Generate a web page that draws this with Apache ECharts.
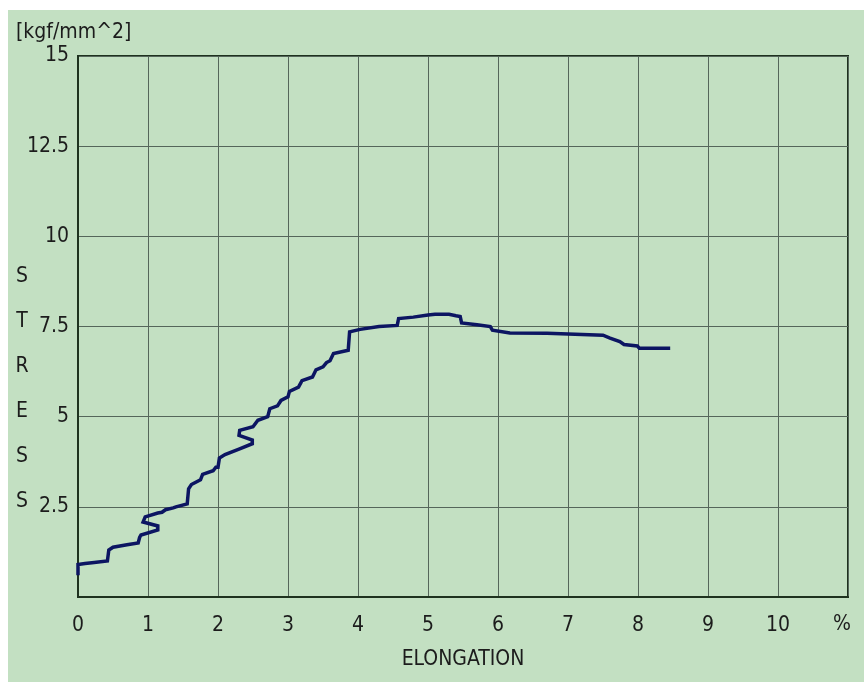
<!DOCTYPE html>
<html>
<head>
<meta charset="utf-8">
<script src="https://cdn.jsdelivr.net/npm/echarts@6/dist/echarts.min.js"></script>
<style>
html,body{margin:0;padding:0;background:#ffffff;}
#c{width:864px;height:682px;}
</style>
</head>
<body>
<div id="c"></div>
<script>
// Elongation (%) and stress (kgf/mm^2)
const elongation = [0, 0, 0.1, 0.2, 0.42, 0.44, 0.5, 0.7, 0.86, 0.88, 0.9, 1.14, 1.14, 0.93, 0.96, 1.14, 1.2, 1.25, 1.36, 1.4, 1.56, 1.58, 1.62, 1.75, 1.78, 1.93, 1.97, 2.0, 2.02, 2.1, 2.3, 2.49, 2.49, 2.3, 2.31, 2.5, 2.57, 2.71, 2.74, 2.85, 2.9, 3.0, 3.02, 3.15, 3.2, 3.35, 3.4, 3.5, 3.55, 3.6, 3.65, 3.86, 3.88, 4.03, 4.3, 4.56, 4.58, 4.79, 5.0, 5.1, 5.3, 5.4, 5.46, 5.48, 5.7, 5.89, 5.92, 6.17, 6.7, 6.72, 7.5, 7.6, 7.74, 7.8, 7.99, 8.02, 8.46];
const stress     = [0.6, 0.9, 0.93, 0.95, 1.0, 1.3, 1.38, 1.45, 1.5, 1.65, 1.72, 1.86, 1.97, 2.08, 2.22, 2.33, 2.35, 2.42, 2.47, 2.5, 2.58, 3.0, 3.12, 3.25, 3.4, 3.5, 3.6, 3.6, 3.85, 3.95, 4.1, 4.25, 4.35, 4.48, 4.62, 4.72, 4.9, 5.0, 5.22, 5.3, 5.45, 5.55, 5.7, 5.82, 6.0, 6.1, 6.3, 6.38, 6.5, 6.55, 6.75, 6.84, 7.35, 7.42, 7.5, 7.53, 7.72, 7.76, 7.82, 7.84, 7.84, 7.8, 7.78, 7.6, 7.55, 7.5, 7.4, 7.32, 7.31, 7.27, 7.26, 7.18, 7.08, 7.0, 6.96, 6.9, 6.9];
const xTicks = [0, 1, 2, 3, 4, 5, 6, 7, 8, 9, 10];
const yTicks = [2.5, 5, 7.5, 10, 12.5, 15];
const xUnit = '%';
const yUnit = '[kgf/mm^2]';
const xTitle = 'ELONGATION';
const yTitle = ['S', 'T', 'R', 'E', 'S', 'S'];

const FONT = "'Liberation Sans Narrow', 'Arial Narrow', 'DejaVu Sans Condensed', sans-serif";
const TXT = '#1c1c1c';
const points = elongation.map((x, i) => [x, stress[i]]);

const chart = echarts.init(document.getElementById('c'), null, {renderer: 'canvas'});
chart.setOption({
  animation: false,
  backgroundColor: '#ffffff',
  graphic: [
    {type: 'rect', z: -10, silent: true, shape: {x: 8, y: 10, width: 856, height: 672}, style: {fill: '#c3e0c2'}},
    {type: 'text', left: 16, top: 22, style: {text: yUnit, font: '21px ' + FONT, fill: TXT}},
    {type: 'text', x: 22, y: 389, style: {text: yTitle.join('\n'), font: '21px ' + FONT, fill: TXT, lineHeight: 45, align: 'center', verticalAlign: 'middle'}},
    {type: 'text', x: 842, y: 625, style: {text: xUnit, font: '21px ' + FONT, fill: TXT, align: 'center', verticalAlign: 'middle'}}
  ],
  grid: {left: 78, top: 56, right: 16, bottom: 85, show: true, borderColor: '#1e321e', borderWidth: 2, backgroundColor: 'transparent'},
  xAxis: {
    type: 'value', min: 0, max: 11, interval: 1,
    name: xTitle, nameLocation: 'middle', nameGap: 52,
    nameTextStyle: {fontFamily: FONT, fontSize: 21, color: TXT},
    axisLine: {show: true, lineStyle: {color: '#1e321e', width: 2}},
    axisTick: {show: false},
    axisLabel: {margin: 18, fontFamily: FONT, fontSize: 21, color: TXT,
      formatter: v => xTicks.indexOf(v) >= 0 ? String(v) : ''},
    splitLine: {show: true, lineStyle: {color: '#55665a', width: 1}}
  },
  yAxis: {
    type: 'value', min: 0, max: 15, interval: 2.5,
    axisLine: {show: true, lineStyle: {color: '#1e321e', width: 2}},
    axisTick: {show: false},
    axisLabel: {margin: 9, fontFamily: FONT, fontSize: 21, color: TXT,
      formatter: v => yTicks.indexOf(v) >= 0 ? String(v) : ''},
    splitLine: {show: true, lineStyle: {color: '#55665a', width: 1}}
  },
  series: [{
    type: 'line', data: points, showSymbol: false, smooth: false,
    lineStyle: {color: '#0c1562', width: 3.5, join: 'miter'},
    z: 5
  }]
});
</script>
</body>
</html>
